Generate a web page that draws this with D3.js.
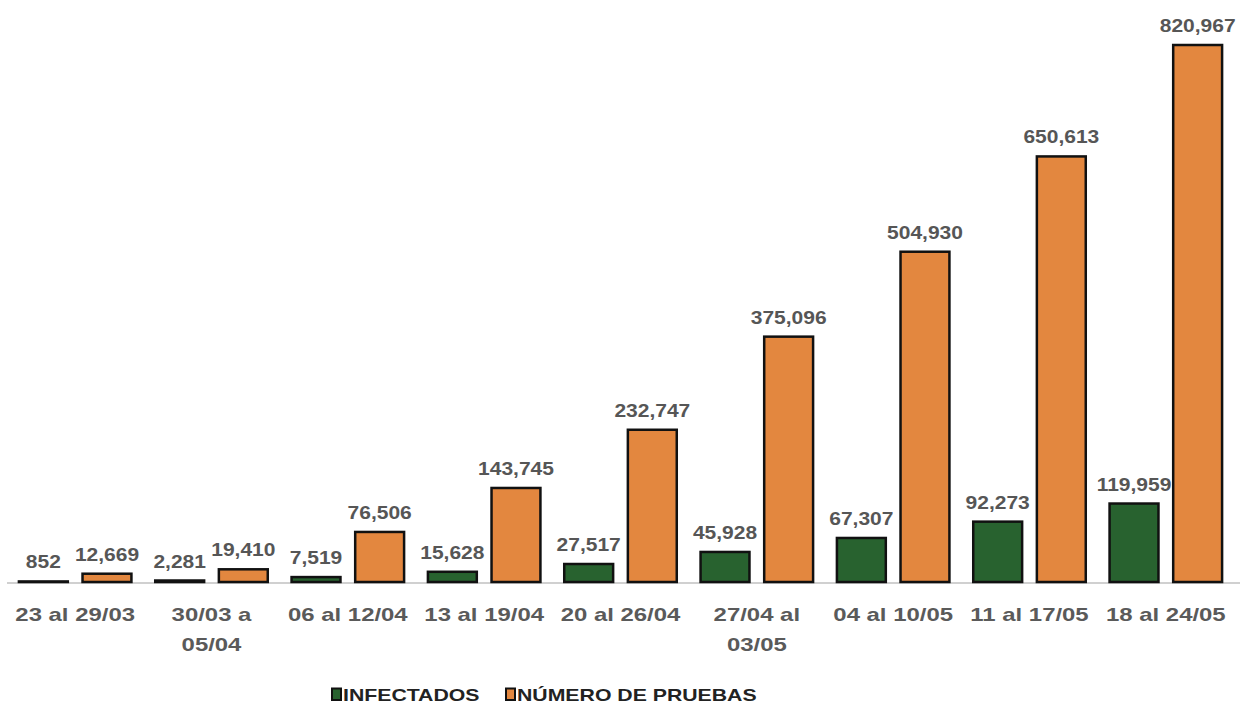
<!DOCTYPE html>
<html><head><meta charset="utf-8">
<script src="https://cdn.jsdelivr.net/npm/d3@7"></script>
<style>body{margin:0;background:#fff}svg{display:block}</style>
</head><body><svg id="c" width="1256" height="707"></svg>
<script>
const categories = [["23 al 29/03"],["30/03 a","05/04"],["06 al 12/04"],["13 al 19/04"],["20 al 26/04"],["27/04 al","03/05"],["04 al 10/05"],["11 al 17/05"],["18 al 24/05"]];
const infectados = [852,2281,7519,15628,27517,45928,67307,92273,119959];
const pruebas = [12669,19410,76506,143745,232747,375096,504930,650613,820967];
const seriesNames = ["INFECTADOS","NÚMERO DE PRUEBAS"];
const colors = ["#28622f","#e3873f"];

const FONT = "Liberation Sans, Arial, sans-serif";
const svg = d3.select("#c");
const baseY = 582;
const x0 = d3.scaleBand().domain(d3.range(categories.length)).range([7,1234]).paddingInner(0.16).paddingOuter(0.08);
const x1 = d3.scaleBand().domain([0,1]).range([0,x0.bandwidth()]).paddingInner(0.2);
const y = d3.scaleLinear().domain([0,820967]).range([baseY,45]);
const fmt = d3.format(",");

svg.append("line").attr("x1",7).attr("x2",1240).attr("y1",baseY+1).attr("y2",baseY+1).attr("stroke","#d0d0d0").attr("stroke-width",2);

const data = categories.map((c,i)=>[infectados[i],pruebas[i]]);
const g = svg.selectAll("g.grp").data(data).join("g").attr("transform",(d,i)=>`translate(${x0(i)},0)`);
g.selectAll("rect").data(d=>d).join("rect")
  .attr("x",(d,j)=>x1(j)+1).attr("width",x1.bandwidth()-2)
  .attr("y",d=>y(d)).attr("height",d=>Math.max(0.5,baseY-y(d)))
  .attr("fill",(d,j)=>colors[j]).attr("stroke","#111").attr("stroke-width",2.5);
g.selectAll("text.v").data(d=>d).join("text").attr("class","v")
  .attr("transform",(d,j)=>`translate(${x1(j)+x1.bandwidth()/2},${y(d)-13}) scale(1.2,1)`)
  .attr("text-anchor","middle").attr("font-family",FONT)
  .attr("font-weight","bold").attr("font-size",17.5).attr("fill","#565656")
  .text(d=>fmt(d));

const xl = svg.selectAll("text.x").data(categories).join("text").attr("class","x")
  .attr("transform",(d,i)=>`translate(${x0(i)+x0.bandwidth()/2},621) scale(1.33,1)`)
  .attr("text-anchor","middle").attr("font-family",FONT)
  .attr("font-size",18).attr("fill","#5a5a5a").attr("font-weight","bold");
xl.selectAll("tspan").data(d=>d).join("tspan")
  .attr("x",0).attr("dy",(d,k)=>k?30:0).text(d=>d);

const leg = svg.append("g");
const legX = [332,506];
seriesNames.forEach((s,i)=>{
  leg.append("rect").attr("x",legX[i]).attr("y",688.5).attr("width",9).attr("height",11.5)
    .attr("fill",colors[i]).attr("stroke","#111").attr("stroke-width",2);
  leg.append("text").attr("transform",`translate(${legX[i]+11},701) scale(1.25,1)`).attr("font-family",FONT)
    .attr("font-weight","bold").attr("font-size",17).attr("fill","#222").text(s);
});
</script></body></html>
